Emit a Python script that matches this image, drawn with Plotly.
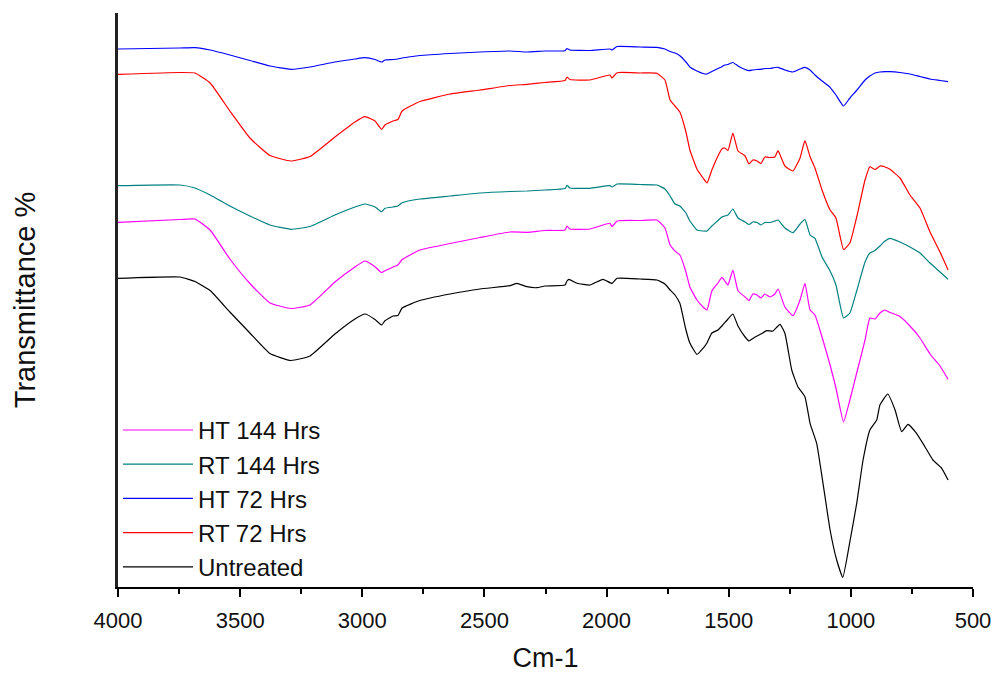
import plotly.graph_objects as go

# Wavenumbers (cm-1) shared by the four treated samples
wn_treated = [4000, 3746, 3685, 3623, 3542, 3460, 3378, 3292, 3214, 3112,
              3030, 2989, 2948, 2921, 2907, 2874, 2854, 2837, 2764, 2641,
              2518, 2395, 2326, 2252, 2170, 2162, 2150, 2068, 1986, 1978,
              1957, 1863, 1794, 1761, 1740, 1720, 1700, 1675, 1659, 1630,
              1605, 1589, 1569, 1544, 1528, 1516, 1503, 1483, 1462, 1433,
              1417, 1401, 1384, 1368, 1352, 1331, 1311, 1298, 1270, 1237,
              1208, 1188, 1167, 1147, 1118, 1085, 1061, 1030, 1004, 975,
              942, 922, 901, 881, 860, 840, 799, 758, 717, 676,
              635, 602]

# Offset transmittance (arbitrary units, stacked spectra)
ht_72 = [538, 539, 539.3, 537, 532, 526.5, 521, 517.7, 520, 525,
         528, 529.3, 527.5, 525, 527, 527.5, 528, 529, 531.5, 533.5,
         535, 536, 535, 536, 536.3, 538.5, 537, 536.5, 538, 537,
         540.5, 540, 539.7, 538, 535.5, 534, 531.3, 525, 520, 516,
         513.5, 513, 515.5, 518.5, 520.3, 522, 522.5, 524.5, 521, 517.5,
         516.3, 517, 517.5, 517.7, 518.5, 518.5, 519.5, 519.7, 517, 515,
         518, 519.7, 517, 512, 506, 499.7, 492, 481, 489, 497,
         507, 511, 514, 515, 515.3, 515.3, 514.5, 513, 510.5, 508,
         506.5, 505.3]

rt_72 = [512.7, 514.5, 514, 504, 476, 449, 431.5, 426, 430.5, 450,
         465, 470.3, 466, 457.7, 462, 466, 467.5, 476, 485.5, 493,
         497, 501.5, 502.7, 504.5, 506.5, 510, 507.5, 507, 512, 509,
         514.3, 514, 513.7, 507, 487, 481, 475, 455, 437, 418,
         409, 404, 417, 431, 438, 439, 436.5, 454, 436, 431,
         423, 427, 426, 423.5, 430, 429.5, 430, 436.3, 421, 416,
         429, 446.3, 430.3, 419, 397, 377, 369, 337.5, 344, 371,
         407, 420.3, 417.5, 421, 420, 417.7, 409, 392, 379, 355,
         335, 317]

rt_144 = [401.3, 402, 399, 392, 381, 371, 362, 357.7, 360.5, 372,
          380, 383, 380, 375.3, 378.7, 380, 381, 384.3, 388, 391,
          394, 395.5, 396, 397, 398.5, 401.7, 399, 398.7, 401.3, 400,
          403, 402.5, 402, 398, 391, 383, 381, 374, 366, 357,
          356, 356, 361, 366.5, 370, 371, 372, 378, 369, 365,
          362.5, 365, 364.5, 362, 364.5, 364.5, 366, 367, 359, 354.3,
          363, 367.7, 352, 348.7, 330, 316, 302, 269, 274, 297,
          325, 334, 336.5, 341, 346, 348.7, 345, 340, 334, 324,
          315, 307.7]

ht_144 = [364.7, 367.5, 368, 357, 328, 303.5, 284, 278.5, 282, 305,
          320, 326, 320.3, 314.3, 316.3, 320, 322, 327.5, 337, 343.5,
          349.5, 355, 354.7, 356.5, 357, 361, 358, 358, 363.7, 360.3,
          366, 366.5, 367, 359, 342, 336, 332, 315, 300, 287,
          280, 277, 296, 304, 309.7, 306, 302, 317, 296.3, 290,
          286.3, 293, 292, 289, 293, 290, 293, 298, 280, 271.3,
          287, 303.7, 277, 272, 250, 222, 199, 165, 187, 215,
          247, 269, 268, 274, 277, 274.5, 270.5, 261, 249, 233,
          221, 207.7]

# Untreated sample
wn_untreated = [4000, 3746, 3685, 3623, 3542, 3460, 3378, 3292, 3214, 3112,
                3030, 2989, 2948, 2921, 2907, 2874, 2854, 2837, 2764, 2641,
                2518, 2395, 2367, 2326, 2285, 2252, 2170, 2162, 2154, 2121,
                2068, 2015, 1978, 1957, 1863, 1794, 1761, 1740, 1720, 1700,
                1675, 1659, 1630, 1605, 1589, 1569, 1544, 1528, 1503, 1483,
                1462, 1433, 1417, 1401, 1384, 1368, 1345, 1319, 1290, 1270,
                1242, 1217, 1188, 1167, 1140, 1114, 1085, 1058, 1033, 1004,
                976, 950, 922, 894, 881, 849, 819, 792, 766, 731,
                697, 664, 628, 602]
untreated = [308.7, 310, 305.5, 296.5, 275, 254, 233.5, 226.5, 231, 253,
             268, 273, 267.5, 262, 266.3, 271, 271.5, 279, 286.5, 293,
             298, 301.3, 303.7, 300.3, 299.3, 301, 302, 306, 307.7, 303.7,
             302, 307.7, 303.7, 308.7, 308, 307, 303, 297, 292, 283.7,
             257, 244, 232.5, 238.7, 244, 254, 257, 261, 268, 273,
             261, 250, 246, 248.5, 251, 253, 256.3, 256, 262.7, 253.7,
             217, 200.3, 190.3, 163.7, 143.7, 103.7, 57, 27, 9.7, 45.3,
             83.7, 127, 157, 167, 182, 193, 177, 155.3, 162.7, 153.7,
             140.3, 127, 118.7, 107]

x_ticks = [4000, 3500, 3000, 2500, 2000, 1500, 1000, 500]

FONT = "Arial, 'Liberation Sans', sans-serif"

series = [
    ("HT 144 Hrs", wn_treated, ht_144, "#FF00FF"),
    ("RT 144 Hrs", wn_treated, rt_144, "#008080"),
    ("HT 72 Hrs", wn_treated, ht_72, "#0000FF"),
    ("RT 72 Hrs", wn_treated, rt_72, "#FF0000"),
    ("Untreated", wn_untreated, untreated, "#000000"),
]

fig = go.Figure()
for name, xs, ys, col in series:
    fig.add_trace(go.Scatter(x=xs, y=ys, mode="lines", name=name,
                             line=dict(color=col, width=1.2, shape="spline", smoothing=0.4)))

fig.update_layout(
    width=997, height=673,
    margin=dict(l=118, r=24, t=13, b=86),
    paper_bgcolor="white", plot_bgcolor="white",
    font=dict(family=FONT, color="#000000"),
    showlegend=True,
    legend=dict(x=0.0, y=0.312, xanchor="left", yanchor="top",
                bgcolor="rgba(0,0,0,0)", font=dict(size=24, family=FONT, color="#111111"),
                itemwidth=70, tracegroupgap=0, traceorder="normal"),
    xaxis=dict(range=[4000, 500], tickvals=x_ticks, ticks="outside", ticklen=8, tickwidth=1.5,
               tickcolor="#000000", showline=True, linecolor="#000000", linewidth=1.5,
               showgrid=False, zeroline=False, ticklabelstandoff=5, automargin=False,
               tickfont=dict(size=22, family=FONT, color="#111111"),
               minor=dict(ticks="outside", ticklen=5, tickwidth=1.5, tickcolor="#000000",
                          dtick=250, tick0=500, showgrid=False),
               title=dict(text="Cm-1", font=dict(size=27, family=FONT, color="#111111"), standoff=19)),
    yaxis=dict(range=[0, 574], showline=True, linecolor="#222222", linewidth=2.5,
               showticklabels=False, ticks="", showgrid=False, zeroline=False, automargin=False,
               title=dict(text="Transmittance %", font=dict(size=29, family=FONT, color="#111111"),
                          standoff=72)),
)

fig.write_html("out.html")
